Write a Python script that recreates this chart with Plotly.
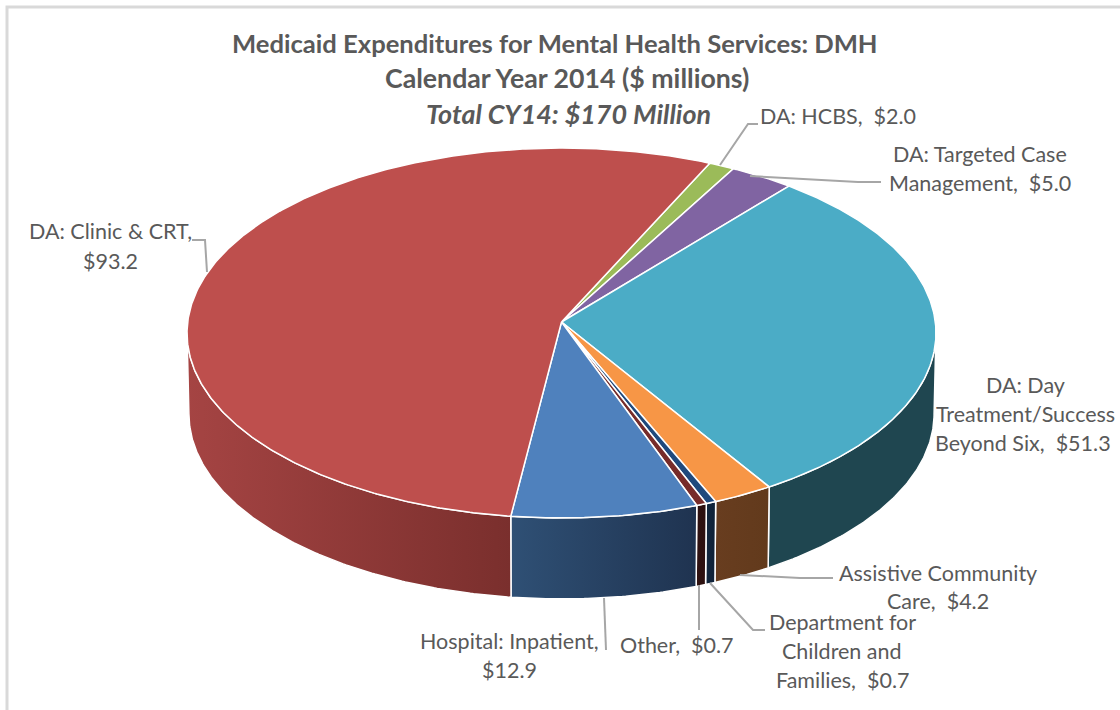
import numpy as np
import plotly.graph_objects as go

# ---- data (clockwise from the HCBS slice) ----
categories = ["DA: HCBS", "DA: Targeted Case Management", "DA: Day Treatment/Success Beyond Six",
              "Assistive Community Care", "Department for Children and Families", "Other",
              "Hospital: Inpatient", "DA: Clinic & CRT"]
values = [2.0, 5.0, 51.3, 4.2, 0.7, 0.7, 12.9, 93.2]
top_colors = ["#9BBB59", "#8064A2", "#4BACC6", "#F79646", "#1F497D", "#772C2A", "#4F81BD", "#BE4F4D"]
side_left = ["#5D7035", "#4C3C61", "#1F4650", "#683D1F", "#12263E", "#2F1211", "#2F5075", "#A54443"]
side_right = ["#5D7035", "#4C3C61", "#1F4650", "#623A1C", "#0F2238", "#2C1010", "#1F3350", "#7A2F2D"]
title_lines = ["Medicaid Expenditures for Mental Health Services: DMH",
               "Calendar Year 2014 ($ millions)", "<i>Total CY14: $170 Million</i>"]
label_lines = [["DA: HCBS,  {v}"], ["DA: Targeted Case", "Management,  {v}"],
               ["DA: Day", "Treatment/Success", "Beyond Six,  {v}"], ["Assistive Community", "Care,  {v}"],
               ["Department for", "Children and", "Families,  {v}"], ["Other,  {v}"],
               ["Hospital: Inpatient,", "{v}"], ["DA: Clinic & CRT,", "{v}"]]

# ---- projection of the pie on the page (pixels of the 1120x710 canvas) ----
APEX_X, APEX_Y = 561.5, 322
AX, BY, K = 373.8, 184.3, 0.0595
DEPTH, BOTTOM_SCALE = 81, 0.995
START_DEG = 24.7


def rim(theta_deg, drop=0.0, scale=1.0):
    t = np.radians(np.asarray(theta_deg, dtype=float))
    d = 1 + K * np.cos(t)
    return APEX_X + scale * AX * np.sin(t) / d, APEX_Y - BY * np.cos(t) / d + drop


def arc(a, b):
    return np.linspace(a, b, max(2, int(abs(b - a) * 2) + 1))


fig = go.Figure()
edges = START_DEG + np.concatenate([[0], np.cumsum(values)]) / sum(values) * 360

# visible side band: the front half of the rim
vis_a = np.degrees(np.arccos(-K))
vis_b = 360 - vis_a
for i, name in enumerate(categories):
    a, b = edges[i], edges[i + 1]
    a2, b2 = max(a, vis_a), min(b, vis_b)
    if b2 <= a2:
        continue
    th = arc(a2, b2)
    xt, yt = rim(th)
    xb, yb = rim(th[::-1], DEPTH, BOTTOM_SCALE)
    # the gradient runs left to right on the page
    fig.add_trace(go.Scatter(
        x=np.r_[xt, xb, xt[0]], y=np.r_[yt, yb, yt[0]], mode="lines", name=name,
        line=dict(color="white", width=1.5), fill="toself",
        fillgradient=dict(type="horizontal",
                          colorscale=[[0, side_left[i]], [1, side_right[i]]]),
        hoverinfo="skip", showlegend=False))

for i, name in enumerate(categories):
    th = arc(edges[i], edges[i + 1])
    xt, yt = rim(th)
    fig.add_trace(go.Scatter(
        x=np.r_[APEX_X, xt, APEX_X], y=np.r_[APEX_Y, yt, APEX_Y], mode="lines", name=name,
        line=dict(color="white", width=1.5), fill="toself", fillcolor=top_colors[i],
        text=f"{name}: ${values[i]:.1f}", hoverinfo="text", showlegend=False))

# ---- text ----
FONT = "Lato"
TXT = "#595959"
annotations = []
title_pos = [(555, 43), (567, 78), (568, 113)]
title_sizes = [25.6, 26.7, 26.9]
for line, (x, y), s in zip(title_lines, title_pos, title_sizes):
    annotations.append(dict(x=x, y=y, text=f"<b>{line}</b>", showarrow=False,
                            font=dict(family=FONT, size=s, color=TXT)))
label_pos = [[(838, 116)], [(980, 154), (980, 183)], [(1025, 385), (1025, 414), (1023, 443)],
             [(938, 573), (938, 601)], [(842, 622), (842, 651), (842, 680)], [(677, 645)],
             [(509, 641), (509, 670)], [(110, 231), (110, 261)]]
for i, lines in enumerate(label_lines):
    for line, (x, y) in zip(lines, label_pos[i]):
        annotations.append(dict(x=x, y=y, text=line.format(v=f"${values[i]:.1f}"), showarrow=False,
                                font=dict(family=FONT, size=21.5, color=TXT)))

leader_paths = ["M192,240 L205,240 L207,272", "M758,124 L748,124 L720,165",
                "M881,182 L858,182 L750,176", "M833,578 L800,578 L740,575",
                "M765,630 L753,630 L710,583", "M699,585 L699,630", "M604,598 L606,650"]
shapes = [dict(type="path", path=p, xref="x", yref="y", line=dict(color="#A6A6A6", width=2))
          for p in leader_paths]
# chart frame
shapes.append(dict(type="path", path="M7,710 L7,7 L1120,7", xref="x", yref="y",
                   line=dict(color="#D9D9D9", width=3)))

fig.update_layout(
    width=1120, height=710, margin=dict(l=0, r=0, t=0, b=0),
    paper_bgcolor="white", plot_bgcolor="white", showlegend=False,
    xaxis=dict(range=[0, 1120], visible=False, fixedrange=True),
    yaxis=dict(range=[710, 0], visible=False, fixedrange=True),
    annotations=annotations, shapes=shapes)
fig.write_html("out.html", config={"displayModeBar": False},
               post_script="document.body.style.margin='0';document.body.style.overflow='hidden';")
